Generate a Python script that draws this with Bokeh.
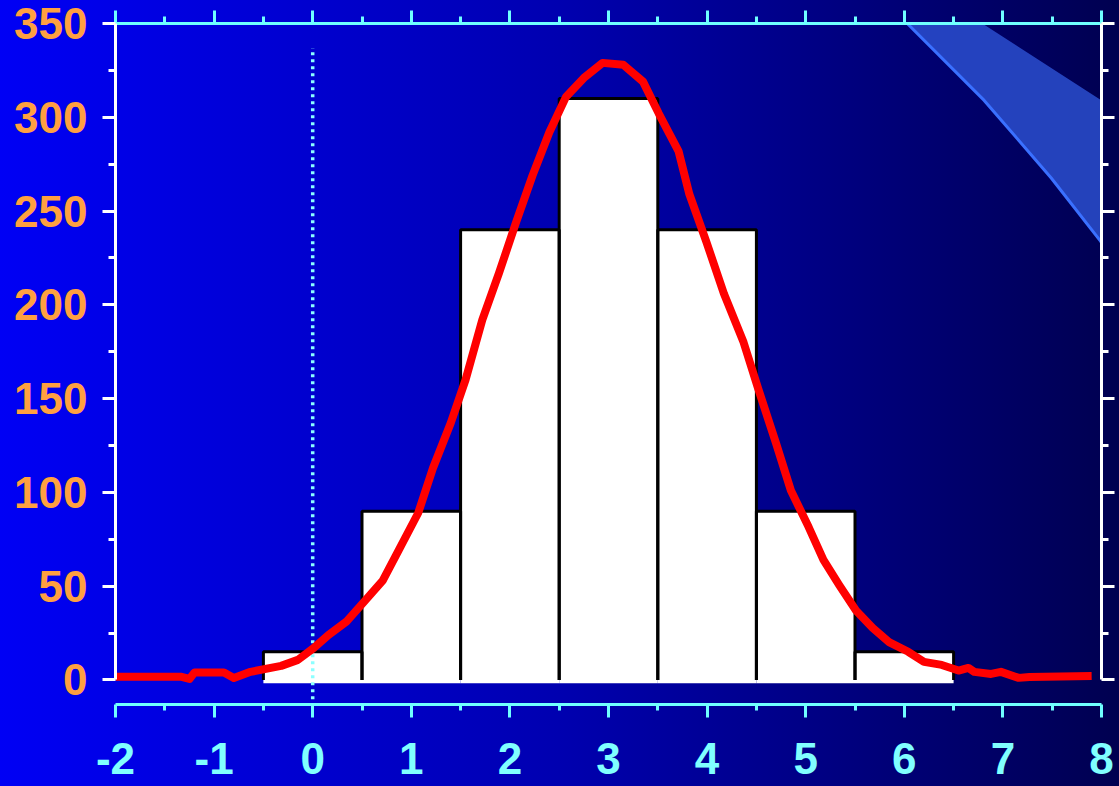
from bokeh.plotting import figure
from bokeh.models import (Range1d, LinearAxis, FixedTicker, GlobalInlineStyleSheet,
                          PolyAnnotation)
from bokeh.embed import file_html
from bokeh.resources import INLINE

# ---------------- data ----------------
bar_centers = [0, 1, 2, 3, 4, 5, 6]
bar_counts = [15, 90, 240, 310, 240, 90, 15]

curve_x = [-2.0, -1.34, -1.25, -1.2, -0.9, -0.8, -0.63, -0.32, -0.15, 0.01, 0.16, 0.34,
           0.52, 0.71, 0.87, 1.07, 1.22, 1.40, 1.55, 1.72, 1.89, 2.06, 2.23, 2.40,
           2.57, 2.75, 2.94, 3.15, 3.35, 3.51, 3.71, 3.82, 3.99, 4.17, 4.37, 4.52,
           4.70, 4.85, 5.03, 5.18, 5.34, 5.51, 5.68, 5.85, 6.04, 6.20, 6.38, 6.55,
           6.65, 6.71, 6.88, 6.98, 7.16, 7.27, 7.9]
curve_y = [1.7, 1.7, 0.5, 3.9, 3.9, 1.0, 4.3, 7.5, 10.7, 17.0, 24.0, 31.0,
           41.6, 53.0, 69.0, 89.0, 113.0, 137.0, 160.0, 192.0, 217.0, 243.6, 269.0, 292.0,
           311.0, 321.0, 329.0, 328.0, 319.0, 302.0, 282.0, 259.0, 234.0, 206.0, 180.0, 155.0,
           126.0, 101.0, 81.5, 64.0, 50.6, 37.0, 27.7, 20.0, 15.0, 9.6, 8.0, 5.0,
           6.4, 4.3, 3.2, 4.3, 1.1, 1.6, 2.1]

x_ticks = [-2, -1, 0, 1, 2, 3, 4, 5, 6, 7, 8]
x_tick_labels = ["-2", "-1", "0", "1", "2", "3", "4", "5", "6", "7", "8"]
x_minor = [-1.5, -0.5, 0.5, 1.5, 2.5, 3.5, 4.5, 5.5, 6.5, 7.5]
y_ticks = [0, 50, 100, 150, 200, 250, 300, 350]
y_minor = [25, 75, 125, 175, 225, 275, 325]

# decorative band (template ornament, top right)
band_x = [5.7, 6.03, 6.81, 7.49, 7.99, 8.19, 8.19, 6.32]
band_y = [366, 350, 309, 267.6, 234, 218, 302.5, 366]
band_edge_x = [5.7, 6.03, 6.81, 7.49, 7.99, 8.19]
band_edge_y = [366, 350, 309, 267.6, 234, 218]

zero_line_x = [0, 0]
zero_line_y = [-14, 337]

# ---------------- figure ----------------
css = GlobalInlineStyleSheet(css="""
html, body { overflow: hidden; margin: 0; padding: 0; }
html { min-height: 100%;
  background: linear-gradient(to right, #0000f5 0%, #0000b0 50%, #000050 100%) fixed; }
""")

p = figure(width=1119, height=786, output_backend="svg", toolbar_location=None,
           x_range=Range1d(-2, 8), y_range=Range1d(-13.1, 350),
           x_axis_location=None, y_axis_location=None,
           min_border_left=115, min_border_right=18, min_border_top=23, min_border_bottom=82)
p.stylesheets = [css]
p.background_fill_alpha = 0
p.border_fill_alpha = 0
p.outline_line_color = None
p.xgrid.visible = False
p.ygrid.visible = False

LABEL_FONT = "Liberation Sans"

def style_common(ax, color):
    ax.axis_line_color = color
    ax.axis_line_width = 3
    ax.major_tick_line_color = color
    ax.minor_tick_line_color = color
    ax.major_tick_line_width = 3
    ax.minor_tick_line_width = 3
    ax.major_tick_out = 13
    ax.major_tick_in = 0
    ax.minor_tick_out = 7
    ax.minor_tick_in = 0

def hide_labels(ax, ticks):
    ax.major_label_overrides = {t: "" for t in ticks}
    ax.major_label_text_font_size = "1px"
    ax.major_label_standoff = 0

# left axis
left = LinearAxis(bounds=(0, 350), ticker=FixedTicker(ticks=y_ticks, minor_ticks=y_minor))
style_common(left, "white")
left.major_label_text_color = "#ffa040"
left.major_label_text_font = LABEL_FONT
left.major_label_text_font_style = "bold"
left.major_label_text_font_size = "44px"
left.major_label_standoff = 15
p.add_layout(left, "left")

# right axis (no labels)
right = LinearAxis(bounds=(0, 350), ticker=FixedTicker(ticks=y_ticks, minor_ticks=y_minor))
style_common(right, "white")
hide_labels(right, y_ticks)
p.add_layout(right, "right")

# bottom axis
bottom = LinearAxis(bounds=(-2, 8), ticker=FixedTicker(ticks=x_ticks, minor_ticks=x_minor))
style_common(bottom, "#70ffff")
bottom.minor_tick_out = 6
bottom.major_label_overrides = dict(zip(x_ticks, x_tick_labels))
bottom.major_label_text_color = "#80ffff"
bottom.major_label_text_font = LABEL_FONT
bottom.major_label_text_font_style = "bold"
bottom.major_label_text_font_size = "44px"
bottom.major_label_text_line_height = 0.9
bottom.major_label_standoff = 25
p.add_layout(bottom, "below")

# top axis (no labels)
top = LinearAxis(bounds=(-2, 8), ticker=FixedTicker(ticks=x_ticks, minor_ticks=x_minor))
style_common(top, "#70ffff")
hide_labels(top, x_ticks)
p.add_layout(top, "above")

# ornament
p.add_layout(PolyAnnotation(xs=band_x, ys=band_y, fill_color="#2d52d4", fill_alpha=0.8,
                            line_color=None, level="underlay"))
p.line(band_edge_x, band_edge_y, line_color="#3a70ff", line_width=3)

# bars: white fill, black outline on top and sides
lefts = [c - 0.5 for c in bar_centers]
rights = [c + 0.5 for c in bar_centers]
p.quad(left=lefts, right=rights, bottom=[-1.8] * len(bar_counts), top=bar_counts,
       fill_color="white", line_color=None)
outline_xs = [[l, l, r, r] for l, r in zip(lefts, rights)]
outline_ys = [[0, h, h, 0] for h in bar_counts]
p.multi_line(outline_xs, outline_ys, line_color="black", line_width=3)

# dotted zero line
p.line(zero_line_x, zero_line_y, line_color="#8cffff", line_width=3.5, line_dash="3 4")

# red fitted curve
p.line(curve_x, curve_y, line_color="#ff0000", line_width=8, line_join="round")

open("out.html", "w").write(file_html(p, INLINE))
